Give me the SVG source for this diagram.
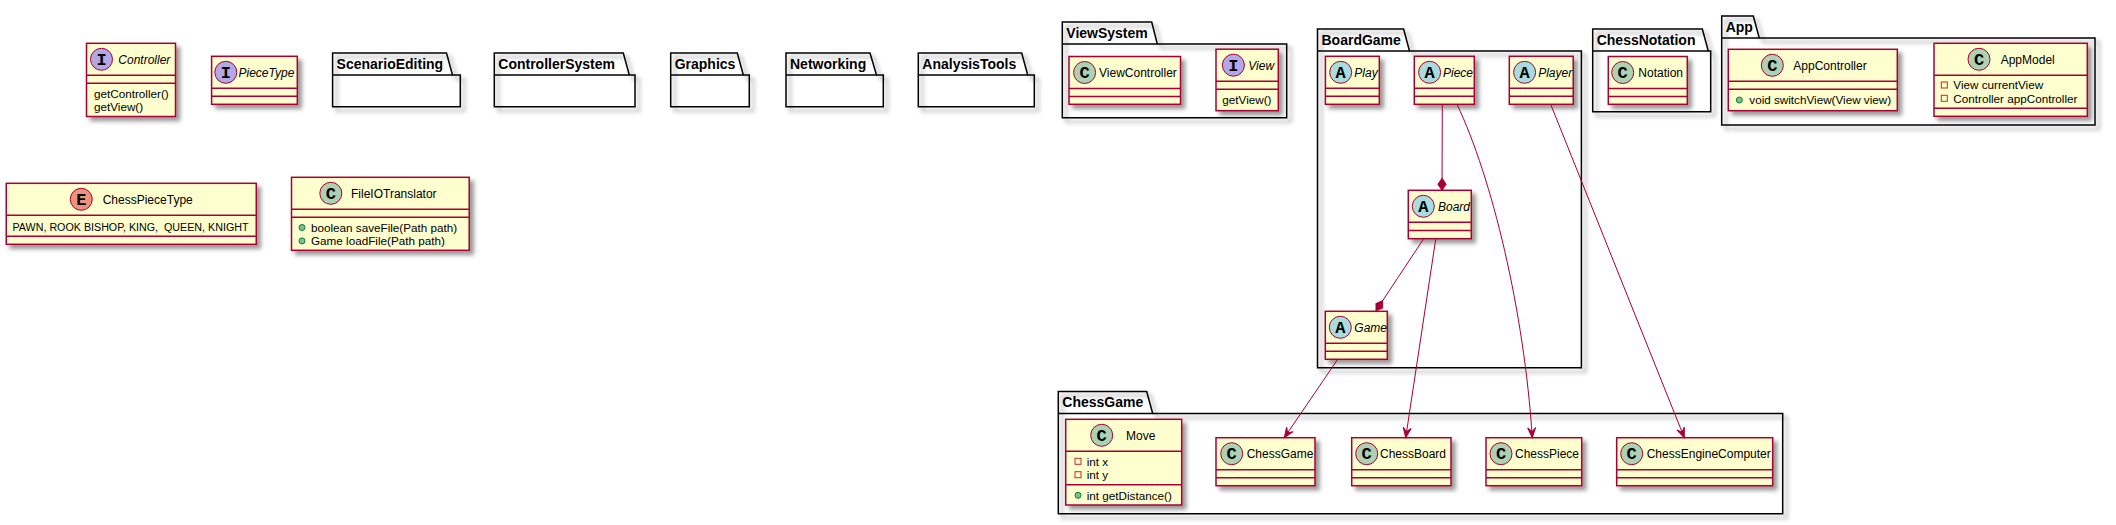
<svg xmlns="http://www.w3.org/2000/svg" width="2116" height="525" viewBox="0 0 2116 525">
<defs>
<filter id="sh" x="-0.2" y="-0.2" width="1.5" height="1.5">
<feGaussianBlur in="SourceAlpha" stdDeviation="2" result="b"/>
<feColorMatrix in="b" type="matrix" values="0 0 0 0 0  0 0 0 0 0  0 0 0 0 0  0 0 0 0.4 0" result="b2"/>
<feOffset in="b2" dx="4" dy="4" result="b3"/>
<feMerge><feMergeNode in="b3"/><feMergeNode in="SourceGraphic"/></feMerge>
</filter>
<marker id="arr" markerUnits="userSpaceOnUse" markerWidth="14" markerHeight="12" viewBox="-12 -6 14 12" refX="0" refY="0" orient="auto">
<path d="M0,0 L-10,-4 L-6,0 L-10,4 Z" fill="#A80036" stroke="#A80036" stroke-width="1"/>
</marker>
<marker id="dia" markerUnits="userSpaceOnUse" markerWidth="16" markerHeight="12" viewBox="-14 -6 16 12" refX="0" refY="0" orient="auto">
<path d="M0,0 L-6,-4 L-12,0 L-6,4 Z" fill="#A80036" stroke="#A80036" stroke-width="1"/>
</marker>
</defs>
<style>
.cls{fill:#FEFECE;stroke:#A80036;stroke-width:1.5;filter:url(#sh)}
.sep{stroke:#A80036;stroke-width:1.5}
.pkg{fill:none;stroke:#000;stroke-width:1.5;filter:url(#sh)}
.pl{stroke:#000;stroke-width:1.5}
.pt{font-family:"Liberation Sans",Arial,sans-serif;font-size:14px;font-weight:bold;fill:#000}
.cn{font-family:"Liberation Sans",Arial,sans-serif;font-size:12px;fill:#000}
.it{font-style:italic}
.mb{font-family:"Liberation Sans",Arial,sans-serif;font-size:11.7px;fill:#000}
.cc{stroke:#A80036;stroke-width:1}
.lc{fill:#ADD1B2}.li{fill:#B4A7E5}.la{fill:#A9DCDF}.le{fill:#EB937F}
.lt{font-family:"Liberation Mono","DejaVu Sans Mono",monospace;font-weight:bold;font-size:17px;text-anchor:middle;fill:#000}
.edge{fill:none;stroke:#A80036;stroke-width:1}
.pub{fill:#84BE84;stroke:#038048;stroke-width:1}
.priv{fill:none;stroke:#C82930;stroke-width:1}
</style>

<!-- Packages -->
<g id="pkg-ScenarioEditing">
<path class="pkg" d="M332.6,75 L332.6,53 L446.5,53 L452.5,75 L460.3,75 L460.3,106.7 L332.6,106.7 Z"/>
<line class="pl" x1="332.6" y1="75" x2="452.5" y2="75"/>
<text class="pt" x="336.6" y="68.5">ScenarioEditing</text>
</g>
<g id="pkg-ControllerSystem">
<path class="pkg" d="M494.3,75 L494.3,53 L623.3,53 L629.3,75 L635,75 L635,106.7 L494.3,106.7 Z"/>
<line class="pl" x1="494.3" y1="75" x2="629.3" y2="75"/>
<text class="pt" x="498.3" y="68.5">ControllerSystem</text>
</g>
<g id="pkg-Graphics">
<path class="pkg" d="M670.7,75 L670.7,53 L737.3,53 L743.3,75 L749.3,75 L749.3,106.7 L670.7,106.7 Z"/>
<line class="pl" x1="670.7" y1="75" x2="743.3" y2="75"/>
<text class="pt" x="674.7" y="68.5">Graphics</text>
</g>
<g id="pkg-Networking">
<path class="pkg" d="M786,75 L786,53 L870,53 L876.5,75 L883.3,75 L883.3,106.7 L786,106.7 Z"/>
<line class="pl" x1="786" y1="75" x2="876.5" y2="75"/>
<text class="pt" x="790" y="68.5">Networking</text>
</g>
<g id="pkg-AnalysisTools">
<path class="pkg" d="M918.3,75 L918.3,53 L1021.7,53 L1027.7,75 L1034.3,75 L1034.3,106.7 L918.3,106.7 Z"/>
<line class="pl" x1="918.3" y1="75" x2="1027.7" y2="75"/>
<text class="pt" x="922.3" y="68.5">AnalysisTools</text>
</g>
<g id="pkg-ViewSystem">
<path class="pkg" d="M1062.3,44 L1062.3,22 L1151.7,22 L1157.3,44 L1286.7,44 L1286.7,117.7 L1062.3,117.7 Z"/>
<line class="pl" x1="1062.3" y1="44" x2="1157.3" y2="44"/>
<text class="pt" x="1066.3" y="37.5">ViewSystem</text>
</g>
<g id="pkg-BoardGame">
<path class="pkg" d="M1317.5,51 L1317.5,29 L1403.6,29 L1409.5,51 L1581.4,51 L1581.4,367.7 L1317.5,367.7 Z"/>
<line class="pl" x1="1317.5" y1="51" x2="1409.5" y2="51"/>
<text class="pt" x="1321.5" y="44.5">BoardGame</text>
</g>
<g id="pkg-ChessNotation">
<path class="pkg" d="M1592.7,51 L1592.7,29 L1702.3,29 L1708.3,51 L1710.7,51 L1710.7,111.7 L1592.7,111.7 Z"/>
<line class="pl" x1="1592.7" y1="51" x2="1708.3" y2="51"/>
<text class="pt" x="1596.7" y="44.5">ChessNotation</text>
</g>
<g id="pkg-App">
<path class="pkg" d="M1721.7,38 L1721.7,16 L1753.3,16 L1759.3,38 L2095,38 L2095,125 L1721.7,125 Z"/>
<line class="pl" x1="1721.7" y1="38" x2="1759.3" y2="38"/>
<text class="pt" x="1725.7" y="31.5">App</text>
</g>
<g id="pkg-ChessGame">
<path class="pkg" d="M1058.3,413.5 L1058.3,391.5 L1146.7,391.5 L1152.7,413.5 L1782.7,413.5 L1782.7,513.7 L1058.3,513.7 Z"/>
<line class="pl" x1="1058.3" y1="413.5" x2="1152.7" y2="413.5"/>
<text class="pt" x="1062.3" y="407">ChessGame</text>
</g>

<!-- Classes -->
<g id="Controller">
<rect class="cls" x="86.5" y="43.3" width="89" height="73.2"/>
<line class="sep" x1="86.5" y1="75.3" x2="175.5" y2="75.3"/>
<line class="sep" x1="86.5" y1="83.3" x2="175.5" y2="83.3"/>
<circle class="cc li" cx="101.5" cy="59.3" r="11"/>
<text class="lt" x="101.5" y="64.8">I</text>
<text class="cn it" x="118.3" y="63.6">Controller</text>
<text class="mb" x="94" y="97.5">getController()</text>
<text class="mb" x="94" y="110.9">getView()</text>
</g>
<g id="PieceType">
<rect class="cls" x="211.6" y="56.3" width="85.7" height="48"/>
<line class="sep" x1="211.6" y1="88.3" x2="297.3" y2="88.3"/>
<line class="sep" x1="211.6" y1="96.3" x2="297.3" y2="96.3"/>
<circle class="cc li" cx="225.8" cy="72.3" r="11"/>
<text class="lt" x="225.8" y="77.8">I</text>
<text class="cn it" x="238.5" y="76.6">PieceType</text>
</g>
<g id="ChessPieceType">
<rect class="cls" x="6.25" y="183.3" width="250" height="61"/>
<line class="sep" x1="6.25" y1="215.3" x2="256.25" y2="215.3"/>
<line class="sep" x1="6.25" y1="236.3" x2="256.25" y2="236.3"/>
<circle class="cc le" cx="81.25" cy="199.3" r="11"/>
<text class="lt" x="81.25" y="204.8">E</text>
<text class="cn" x="102.7" y="203.6">ChessPieceType</text>
<text class="mb" x="12.5" y="230.5" xml:space="preserve" style="white-space:pre" textLength="236" lengthAdjust="spacingAndGlyphs">PAWN, ROOK BISHOP, KING,  QUEEN, KNIGHT</text>
</g>
<g id="FileIOTranslator">
<rect class="cls" x="291.5" y="177.3" width="177.7" height="73"/>
<line class="sep" x1="291.5" y1="209.3" x2="469.2" y2="209.3"/>
<line class="sep" x1="291.5" y1="217.3" x2="469.2" y2="217.3"/>
<circle class="cc lc" cx="330.8" cy="193.3" r="11"/>
<text class="lt" x="330.8" y="198.8">C</text>
<text class="cn" x="351" y="197.6">FileIOTranslator</text>
<circle class="pub" cx="302" cy="227.5" r="3"/>
<text class="mb" x="311" y="231.7">boolean saveFile(Path path)</text>
<circle class="pub" cx="302" cy="240.9" r="3"/>
<text class="mb" x="311" y="245.1">Game loadFile(Path path)</text>
</g>
<g id="ViewController">
<rect class="cls" x="1069" y="56.5" width="111.5" height="47.8"/>
<line class="sep" x1="1069" y1="88.5" x2="1180.5" y2="88.5"/>
<line class="sep" x1="1069" y1="96.5" x2="1180.5" y2="96.5"/>
<circle class="cc lc" cx="1084.6" cy="72.5" r="11"/>
<text class="lt" x="1084.6" y="78">C</text>
<text class="cn" x="1099" y="76.8">ViewController</text>
</g>
<g id="View">
<rect class="cls" x="1216" y="49.2" width="62.3" height="61.5"/>
<line class="sep" x1="1216" y1="81.2" x2="1278.3" y2="81.2"/>
<line class="sep" x1="1216" y1="89.2" x2="1278.3" y2="89.2"/>
<circle class="cc li" cx="1233.4" cy="65.2" r="11"/>
<text class="lt" x="1233.4" y="70.7">I</text>
<text class="cn it" x="1248.3" y="69.5">View</text>
<text class="mb" x="1222.3" y="104.2">getView()</text>
</g>
<g id="Play">
<rect class="cls" x="1325.4" y="56.3" width="53.9" height="48"/>
<line class="sep" x1="1325.4" y1="88.3" x2="1379.3" y2="88.3"/>
<line class="sep" x1="1325.4" y1="96.3" x2="1379.3" y2="96.3"/>
<circle class="cc la" cx="1340.7" cy="72.3" r="11"/>
<text class="lt" x="1340.7" y="77.8">A</text>
<text class="cn it" x="1354.3" y="76.6">Play</text>
</g>
<g id="Piece">
<rect class="cls" x="1414.3" y="56.3" width="60" height="48"/>
<line class="sep" x1="1414.3" y1="88.3" x2="1474.3" y2="88.3"/>
<line class="sep" x1="1414.3" y1="96.3" x2="1474.3" y2="96.3"/>
<circle class="cc la" cx="1429.6" cy="72.3" r="11"/>
<text class="lt" x="1429.6" y="77.8">A</text>
<text class="cn it" x="1443" y="76.6">Piece</text>
</g>
<g id="Player">
<rect class="cls" x="1509.3" y="56.3" width="63.9" height="48"/>
<line class="sep" x1="1509.3" y1="88.3" x2="1573.2" y2="88.3"/>
<line class="sep" x1="1509.3" y1="96.3" x2="1573.2" y2="96.3"/>
<circle class="cc la" cx="1524.6" cy="72.3" r="11"/>
<text class="lt" x="1524.6" y="77.8">A</text>
<text class="cn it" x="1538.2" y="76.6">Player</text>
</g>
<g id="Board">
<rect class="cls" x="1408.3" y="190.3" width="63" height="48.4"/>
<line class="sep" x1="1408.3" y1="222.3" x2="1471.3" y2="222.3"/>
<line class="sep" x1="1408.3" y1="230.5" x2="1471.3" y2="230.5"/>
<circle class="cc la" cx="1423.3" cy="206.3" r="11"/>
<text class="lt" x="1423.3" y="211.8">A</text>
<text class="cn it" x="1438" y="210.6">Board</text>
</g>
<g id="Game">
<rect class="cls" x="1325.3" y="311.3" width="62" height="48"/>
<line class="sep" x1="1325.3" y1="343.3" x2="1387.3" y2="343.3"/>
<line class="sep" x1="1325.3" y1="351.3" x2="1387.3" y2="351.3"/>
<circle class="cc la" cx="1340.3" cy="327.3" r="11"/>
<text class="lt" x="1340.3" y="332.8">A</text>
<text class="cn it" x="1354.3" y="331.6">Game</text>
</g>
<g id="Notation">
<rect class="cls" x="1608.3" y="56.5" width="79" height="47.8"/>
<line class="sep" x1="1608.3" y1="88.5" x2="1687.3" y2="88.5"/>
<line class="sep" x1="1608.3" y1="96.5" x2="1687.3" y2="96.5"/>
<circle class="cc lc" cx="1622.7" cy="72.5" r="11"/>
<text class="lt" x="1622.7" y="78">C</text>
<text class="cn" x="1638.3" y="76.8">Notation</text>
</g>
<g id="AppController">
<rect class="cls" x="1728.3" y="49.3" width="169" height="61.4"/>
<line class="sep" x1="1728.3" y1="81.3" x2="1897.3" y2="81.3"/>
<line class="sep" x1="1728.3" y1="89.3" x2="1897.3" y2="89.3"/>
<circle class="cc lc" cx="1772.3" cy="65.3" r="11"/>
<text class="lt" x="1772.3" y="70.8">C</text>
<text class="cn" x="1793.3" y="69.6">AppController</text>
<circle class="pub" cx="1739.3" cy="100" r="3"/>
<text class="mb" x="1749.3" y="104.2">void switchView(View view)</text>
</g>
<g id="AppModel">
<rect class="cls" x="1934" y="43.3" width="153.3" height="73"/>
<line class="sep" x1="1934" y1="75.3" x2="2087.3" y2="75.3"/>
<line class="sep" x1="1934" y1="108.3" x2="2087.3" y2="108.3"/>
<circle class="cc lc" cx="1979" cy="59.3" r="11"/>
<text class="lt" x="1979" y="64.8">C</text>
<text class="cn" x="2000.7" y="63.6">AppModel</text>
<rect class="priv" x="1941.3" y="82" width="6" height="6"/>
<text class="mb" x="1953.3" y="89.2">View currentView</text>
<rect class="priv" x="1941.3" y="95.3" width="6" height="6"/>
<text class="mb" x="1953.3" y="102.5">Controller appController</text>
</g>
<g id="Move">
<rect class="cls" x="1065.7" y="419.3" width="116" height="85.7"/>
<line class="sep" x1="1065.7" y1="451.3" x2="1181.7" y2="451.3"/>
<line class="sep" x1="1065.7" y1="484.7" x2="1181.7" y2="484.7"/>
<circle class="cc lc" cx="1101.7" cy="435.3" r="11"/>
<text class="lt" x="1101.7" y="440.8">C</text>
<text class="cn" x="1126" y="439.6">Move</text>
<rect class="priv" x="1075" y="458.3" width="6" height="6"/>
<text class="mb" x="1086.7" y="465.5">int x</text>
<rect class="priv" x="1075" y="471.7" width="6" height="6"/>
<text class="mb" x="1086.7" y="478.9">int y</text>
<circle class="pub" cx="1078" cy="495.3" r="3"/>
<text class="mb" x="1086.7" y="499.5">int getDistance()</text>
</g>
<g id="ChessGameClass">
<rect class="cls" x="1216" y="437.7" width="99" height="48"/>
<line class="sep" x1="1216" y1="469.7" x2="1315" y2="469.7"/>
<line class="sep" x1="1216" y1="477.7" x2="1315" y2="477.7"/>
<circle class="cc lc" cx="1231.7" cy="453.7" r="11"/>
<text class="lt" x="1231.7" y="459.2">C</text>
<text class="cn" x="1246.7" y="458">ChessGame</text>
</g>
<g id="ChessBoard">
<rect class="cls" x="1351.7" y="437.7" width="99.3" height="48"/>
<line class="sep" x1="1351.7" y1="469.7" x2="1451" y2="469.7"/>
<line class="sep" x1="1351.7" y1="477.7" x2="1451" y2="477.7"/>
<circle class="cc lc" cx="1366.7" cy="453.7" r="11"/>
<text class="lt" x="1366.7" y="459.2">C</text>
<text class="cn" x="1380" y="458">ChessBoard</text>
</g>
<g id="ChessPiece">
<rect class="cls" x="1486" y="437.7" width="95.7" height="48"/>
<line class="sep" x1="1486" y1="469.7" x2="1581.7" y2="469.7"/>
<line class="sep" x1="1486" y1="477.7" x2="1581.7" y2="477.7"/>
<circle class="cc lc" cx="1501" cy="453.7" r="11"/>
<text class="lt" x="1501" y="459.2">C</text>
<text class="cn" x="1515" y="458">ChessPiece</text>
</g>
<g id="ChessEngineComputer">
<rect class="cls" x="1616.7" y="437.7" width="156" height="48"/>
<line class="sep" x1="1616.7" y1="469.7" x2="1772.7" y2="469.7"/>
<line class="sep" x1="1616.7" y1="477.7" x2="1772.7" y2="477.7"/>
<circle class="cc lc" cx="1631.7" cy="453.7" r="11"/>
<text class="lt" x="1631.7" y="459.2">C</text>
<text class="cn" x="1646.7" y="458">ChessEngineComputer</text>
</g>

<!-- Connectors -->
<g id="connectors">
<path class="edge" d="M1442.3,104.3 L1442,190.3" marker-end="url(#dia)"/>
<path class="edge" d="M1423.3,239.3 L1376,310.7" marker-end="url(#dia)"/>
<path class="edge" d="M1337.7,359.3 L1284.3,437.7" marker-end="url(#arr)"/>
<path class="edge" d="M1435.7,239.3 L1405.7,437.7" marker-end="url(#arr)"/>
<path class="edge" d="M1457,104.3 C1492,178 1524,310 1532.3,437.7" marker-end="url(#arr)"/>
<path class="edge" d="M1550.7,104.3 L1684.3,437.7" marker-end="url(#arr)"/>
</g>
</svg>
